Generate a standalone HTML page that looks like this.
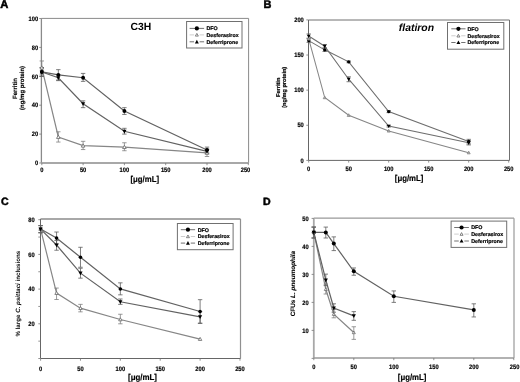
<!DOCTYPE html><html><head><meta charset="utf-8"><style>html,body{margin:0;padding:0;background:#fff;width:520px;height:382px;overflow:hidden}svg{display:block;font-family:"Liberation Sans", sans-serif;filter:blur(0.45px);text-rendering:geometricPrecision}</style></head><body>
<svg width="520" height="382" viewBox="0 0 520 382">
<rect width="520" height="382" fill="#fff"/>
<text x="0.2" y="8.1" font-size="11.2" text-anchor="start" font-weight="bold" fill="#000" stroke="#000" stroke-width="0.5">A</text>
<text x="263.5" y="8.2" font-size="11" text-anchor="start" font-weight="bold" fill="#000" stroke="#000" stroke-width="0.5">B</text>
<text x="1" y="204.8" font-size="10.6" text-anchor="start" font-weight="bold" fill="#000" stroke="#000" stroke-width="0.5">C</text>
<text x="262.9" y="204.6" font-size="10.6" text-anchor="start" font-weight="bold" fill="#000" stroke="#000" stroke-width="0.5">D</text>
<path d="M41.4 18.4H248.6" fill="none" stroke="#8a8a8a" stroke-width="1.0"/>
<path d="M248.6 18.4V163" fill="none" stroke="#8a8a8a" stroke-width="1.0"/>
<path d="M41.4 18.4V163" fill="none" stroke="#8a8a8a" stroke-width="1.3"/>
<path d="M41.4 163H248.6" fill="none" stroke="#a8a8a8" stroke-width="2.0"/>
<path d="M39.2 163H41.4" fill="none" stroke="#777" stroke-width="0.8"/>
<path d="M39.2 134.1H41.4" fill="none" stroke="#777" stroke-width="0.8"/>
<path d="M39.2 105.2H41.4" fill="none" stroke="#777" stroke-width="0.8"/>
<path d="M39.2 76.3H41.4" fill="none" stroke="#777" stroke-width="0.8"/>
<path d="M39.2 47.4H41.4" fill="none" stroke="#777" stroke-width="0.8"/>
<path d="M39.2 18.5H41.4" fill="none" stroke="#777" stroke-width="0.8"/>
<text x="38.2" y="165.2" font-size="6.5" text-anchor="end" font-weight="bold" fill="#000" textLength="3.20" lengthAdjust="spacingAndGlyphs" stroke="#000" stroke-width="0.18">0</text>
<text x="38.2" y="136.3" font-size="6.5" text-anchor="end" font-weight="bold" fill="#000" textLength="6.40" lengthAdjust="spacingAndGlyphs" stroke="#000" stroke-width="0.18">20</text>
<text x="38.2" y="107.4" font-size="6.5" text-anchor="end" font-weight="bold" fill="#000" textLength="6.40" lengthAdjust="spacingAndGlyphs" stroke="#000" stroke-width="0.18">40</text>
<text x="38.2" y="78.5" font-size="6.5" text-anchor="end" font-weight="bold" fill="#000" textLength="6.40" lengthAdjust="spacingAndGlyphs" stroke="#000" stroke-width="0.18">60</text>
<text x="38.2" y="49.6" font-size="6.5" text-anchor="end" font-weight="bold" fill="#000" textLength="6.40" lengthAdjust="spacingAndGlyphs" stroke="#000" stroke-width="0.18">80</text>
<text x="38.2" y="20.7" font-size="6.5" text-anchor="end" font-weight="bold" fill="#000" textLength="9.60" lengthAdjust="spacingAndGlyphs" stroke="#000" stroke-width="0.18">100</text>
<path d="M41.8 163V165.2" fill="none" stroke="#777" stroke-width="0.8"/>
<text x="41.8" y="171.8" font-size="6.5" text-anchor="middle" font-weight="bold" fill="#000" textLength="3.20" lengthAdjust="spacingAndGlyphs" stroke="#000" stroke-width="0.18">0</text>
<path d="M83.1 163V165.2" fill="none" stroke="#777" stroke-width="0.8"/>
<text x="83.1" y="171.8" font-size="6.5" text-anchor="middle" font-weight="bold" fill="#000" textLength="6.40" lengthAdjust="spacingAndGlyphs" stroke="#000" stroke-width="0.18">50</text>
<path d="M124.4 163V165.2" fill="none" stroke="#777" stroke-width="0.8"/>
<text x="124.4" y="171.8" font-size="6.5" text-anchor="middle" font-weight="bold" fill="#000" textLength="9.60" lengthAdjust="spacingAndGlyphs" stroke="#000" stroke-width="0.18">100</text>
<path d="M165.7 163V165.2" fill="none" stroke="#777" stroke-width="0.8"/>
<text x="165.7" y="171.8" font-size="6.5" text-anchor="middle" font-weight="bold" fill="#000" textLength="9.60" lengthAdjust="spacingAndGlyphs" stroke="#000" stroke-width="0.18">150</text>
<path d="M207 163V165.2" fill="none" stroke="#777" stroke-width="0.8"/>
<text x="207" y="171.8" font-size="6.5" text-anchor="middle" font-weight="bold" fill="#000" textLength="9.60" lengthAdjust="spacingAndGlyphs" stroke="#000" stroke-width="0.18">200</text>
<path d="M248.3 163V165.2" fill="none" stroke="#777" stroke-width="0.8"/>
<text x="245.5" y="171.8" font-size="6.5" text-anchor="middle" font-weight="bold" fill="#000" textLength="9.60" lengthAdjust="spacingAndGlyphs" stroke="#000" stroke-width="0.18">250</text>
<text x="130.5" y="182.4" font-size="8.5" text-anchor="start" font-weight="bold" fill="#000" textLength="28.5" lengthAdjust="spacingAndGlyphs" stroke="#000" stroke-width="0.18">[&#956;g/mL]</text>
<text transform="translate(16.9,88.5) rotate(-90) scale(0.1)" font-size="61.0" text-anchor="middle" font-weight="bold" fill="#000" stroke="#000" stroke-width="1.80">Ferritin</text>
<text transform="translate(24,87.9) rotate(-90) scale(0.1)" font-size="60.0" text-anchor="middle" font-weight="bold" fill="#000" stroke="#000" stroke-width="1.80">(ng/mg protein)</text>
<path d="M41.8 71.96L58.32 74.85L83.1 77.74L124.4 110.98L207 150" fill="none" stroke="#626262" stroke-width="1.2"/>
<path d="M41.8 67.63L58.32 136.99L83.1 145.66L124.4 147.1L207 152.88" fill="none" stroke="#868686" stroke-width="1.2"/>
<path d="M41.8 71.96L58.32 77.74L83.1 103.75L124.4 131.21L207 151.44" fill="none" stroke="#626262" stroke-width="1.2"/>
<path d="M41.8 67.63V76.3M39.6 67.63H44M39.6 76.3H44" stroke="#5e5e5e" stroke-width="0.8" fill="none"/>
<path d="M58.32 69.65V80.06M56.12 69.65H60.52M56.12 80.06H60.52" stroke="#5e5e5e" stroke-width="0.8" fill="none"/>
<path d="M83.1 73.41V81.36M80.9 73.41H85.3M80.9 81.36H85.3" stroke="#5e5e5e" stroke-width="0.8" fill="none"/>
<path d="M124.4 107.66V114.45M122.2 107.66H126.6M122.2 114.45H126.6" stroke="#5e5e5e" stroke-width="0.8" fill="none"/>
<path d="M207 147.1V152.88M204.8 147.1H209.2M204.8 152.88H209.2" stroke="#5e5e5e" stroke-width="0.8" fill="none"/>
<path d="M41.8 60.98V74.13M39.6 60.98H44M39.6 74.13H44" stroke="#808080" stroke-width="0.8" fill="none"/>
<path d="M58.32 131.79V142.05M56.12 131.79H60.52M56.12 142.05H60.52" stroke="#808080" stroke-width="0.8" fill="none"/>
<path d="M83.1 141.32V149.56M80.9 141.32H85.3M80.9 149.56H85.3" stroke="#808080" stroke-width="0.8" fill="none"/>
<path d="M124.4 142.77V150.72M122.2 142.77H126.6M122.2 150.72H126.6" stroke="#808080" stroke-width="0.8" fill="none"/>
<path d="M207 149.27V156.5M204.8 149.27H209.2M204.8 156.5H209.2" stroke="#808080" stroke-width="0.8" fill="none"/>
<path d="M41.8 67.63V76.3M39.6 67.63H44M39.6 76.3H44" stroke="#5e5e5e" stroke-width="0.8" fill="none"/>
<path d="M58.32 74.85V80.63M56.12 74.85H60.52M56.12 80.63H60.52" stroke="#5e5e5e" stroke-width="0.8" fill="none"/>
<path d="M83.1 100.86V107.66M80.9 100.86H85.3M80.9 107.66H85.3" stroke="#5e5e5e" stroke-width="0.8" fill="none"/>
<path d="M124.4 128.32V134.1M122.2 128.32H126.6M122.2 134.1H126.6" stroke="#5e5e5e" stroke-width="0.8" fill="none"/>
<path d="M207 149.27V153.61M204.8 149.27H209.2M204.8 153.61H209.2" stroke="#5e5e5e" stroke-width="0.8" fill="none"/>
<circle cx="41.8" cy="71.96" r="1.95" fill="#000"/>
<circle cx="58.32" cy="74.85" r="1.95" fill="#000"/>
<circle cx="83.1" cy="77.74" r="1.95" fill="#000"/>
<circle cx="124.4" cy="110.98" r="1.95" fill="#000"/>
<circle cx="207" cy="150" r="1.95" fill="#000"/>
<path d="M41.8 65.83L43.6 69.07L40 69.07Z" fill="#fff" stroke="#666" stroke-width="0.8"/>
<path d="M58.32 135.19L60.12 138.43L56.52 138.43Z" fill="#fff" stroke="#666" stroke-width="0.8"/>
<path d="M83.1 143.86L84.9 147.1L81.3 147.1Z" fill="#fff" stroke="#666" stroke-width="0.8"/>
<path d="M124.4 145.3L126.2 148.54L122.6 148.54Z" fill="#fff" stroke="#666" stroke-width="0.8"/>
<path d="M207 151.08L208.8 154.32L205.2 154.32Z" fill="#fff" stroke="#666" stroke-width="0.8"/>
<path d="M39.7 70.39L43.9 70.39L41.8 74.17Z" fill="#000"/>
<path d="M56.22 76.17L60.42 76.17L58.32 79.95Z" fill="#000"/>
<path d="M81 102.18L85.2 102.18L83.1 105.96Z" fill="#000"/>
<path d="M122.3 129.64L126.5 129.64L124.4 133.42Z" fill="#000"/>
<path d="M204.9 149.87L209.1 149.87L207 153.65Z" fill="#000"/>
<rect x="186.6" y="21.5" width="55.4" height="26.5" fill="#fff" stroke="#707070" stroke-width="1"/>
<path d="M189.6 28.4H204.1" fill="none" stroke="#626262" stroke-width="0.9"/>
<circle cx="196.85" cy="28.4" r="2.1" fill="#000"/>
<path d="M189.6 34.9H194.05M199.65 34.9H204.1" fill="none" stroke="#c8c8c8" stroke-width="0.9"/>
<path d="M196.85 33.4L198.35 36.1L195.35 36.1Z" fill="#fff" stroke="#666" stroke-width="0.8"/>
<path d="M189.6 41.8H194.05M199.65 41.8H204.1" fill="none" stroke="#626262" stroke-width="0.9"/>
<path d="M196.85 39.82L198.83 43.38L194.87 43.38Z" fill="#000"/>
<text x="206.5" y="30.3" font-size="5.3" text-anchor="start" font-weight="bold" fill="#000"  stroke="#000" stroke-width="0.18">DFO</text>
<text x="206.5" y="36.8" font-size="5.3" text-anchor="start" font-weight="bold" fill="#000"  stroke="#000" stroke-width="0.18">Desferasirox</text>
<text x="206.5" y="43.7" font-size="5.3" text-anchor="start" font-weight="bold" fill="#000"  stroke="#000" stroke-width="0.18">Deferriprone</text>
<text x="130.4" y="30.4" font-size="10.4" font-weight="bold"  fill="#000">C3H</text>
<path d="M308.5 20H509.5" fill="none" stroke="#707070" stroke-width="1.0"/>
<path d="M509.5 20V160.4" fill="none" stroke="#707070" stroke-width="1.0"/>
<path d="M308.5 20V160.4" fill="none" stroke="#666" stroke-width="1.0"/>
<path d="M308.5 160.4H509.5" fill="none" stroke="#666" stroke-width="1.0"/>
<path d="M306.3 160.4H308.5" fill="none" stroke="#777" stroke-width="0.8"/>
<path d="M306.3 125.28H308.5" fill="none" stroke="#777" stroke-width="0.8"/>
<path d="M306.3 90.15H308.5" fill="none" stroke="#777" stroke-width="0.8"/>
<path d="M306.3 55.03H308.5" fill="none" stroke="#777" stroke-width="0.8"/>
<path d="M306.3 19.9H308.5" fill="none" stroke="#777" stroke-width="0.8"/>
<text x="303.8" y="162.6" font-size="6.5" text-anchor="end" font-weight="bold" fill="#000" textLength="3.20" lengthAdjust="spacingAndGlyphs" stroke="#000" stroke-width="0.18">0</text>
<text x="303.8" y="127.48" font-size="6.5" text-anchor="end" font-weight="bold" fill="#000" textLength="6.40" lengthAdjust="spacingAndGlyphs" stroke="#000" stroke-width="0.18">50</text>
<text x="303.8" y="92.35" font-size="6.5" text-anchor="end" font-weight="bold" fill="#000" textLength="9.60" lengthAdjust="spacingAndGlyphs" stroke="#000" stroke-width="0.18">100</text>
<text x="303.8" y="57.23" font-size="6.5" text-anchor="end" font-weight="bold" fill="#000" textLength="9.60" lengthAdjust="spacingAndGlyphs" stroke="#000" stroke-width="0.18">150</text>
<text x="303.8" y="22.1" font-size="6.5" text-anchor="end" font-weight="bold" fill="#000" textLength="9.60" lengthAdjust="spacingAndGlyphs" stroke="#000" stroke-width="0.18">200</text>
<path d="M308.7 160.4V162.6" fill="none" stroke="#777" stroke-width="0.8"/>
<text x="308.7" y="170.5" font-size="6.5" text-anchor="middle" font-weight="bold" fill="#000" textLength="3.20" lengthAdjust="spacingAndGlyphs" stroke="#000" stroke-width="0.18">0</text>
<path d="M348.7 160.4V162.6" fill="none" stroke="#777" stroke-width="0.8"/>
<text x="348.7" y="170.5" font-size="6.5" text-anchor="middle" font-weight="bold" fill="#000" textLength="6.40" lengthAdjust="spacingAndGlyphs" stroke="#000" stroke-width="0.18">50</text>
<path d="M388.7 160.4V162.6" fill="none" stroke="#777" stroke-width="0.8"/>
<text x="388.7" y="170.5" font-size="6.5" text-anchor="middle" font-weight="bold" fill="#000" textLength="9.60" lengthAdjust="spacingAndGlyphs" stroke="#000" stroke-width="0.18">100</text>
<path d="M428.7 160.4V162.6" fill="none" stroke="#777" stroke-width="0.8"/>
<text x="428.7" y="170.5" font-size="6.5" text-anchor="middle" font-weight="bold" fill="#000" textLength="9.60" lengthAdjust="spacingAndGlyphs" stroke="#000" stroke-width="0.18">150</text>
<path d="M468.7 160.4V162.6" fill="none" stroke="#777" stroke-width="0.8"/>
<text x="468.7" y="170.5" font-size="6.5" text-anchor="middle" font-weight="bold" fill="#000" textLength="9.60" lengthAdjust="spacingAndGlyphs" stroke="#000" stroke-width="0.18">200</text>
<path d="M508.7 160.4V162.6" fill="none" stroke="#777" stroke-width="0.8"/>
<text x="508.7" y="170.5" font-size="6.5" text-anchor="middle" font-weight="bold" fill="#000" textLength="9.60" lengthAdjust="spacingAndGlyphs" stroke="#000" stroke-width="0.18">250</text>
<text x="394.8" y="181.3" font-size="8.5" text-anchor="start" font-weight="bold" fill="#000" textLength="28.5" lengthAdjust="spacingAndGlyphs" stroke="#000" stroke-width="0.18">[&#956;g/mL]</text>
<text transform="translate(280.4,87.3) rotate(-90) scale(0.1)" font-size="56.0" text-anchor="middle" font-weight="bold" fill="#000" stroke="#000" stroke-width="1.80">Ferritin</text>
<text transform="translate(286.1,87.3) rotate(-90) scale(0.1)" font-size="56.0" text-anchor="middle" font-weight="bold" fill="#000" stroke="#000" stroke-width="1.80">(ng/mg protein)</text>
<path d="M308.7 40.62L324.7 49.83L348.7 61.84L388.7 111.58L468.7 141.57" fill="none" stroke="#6e6e6e" stroke-width="1.05"/>
<path d="M308.7 38.87L324.7 97.53L348.7 115.23L388.7 130.9L468.7 152.67" fill="none" stroke="#868686" stroke-width="1.05"/>
<path d="M308.7 36.06L324.7 46.24L348.7 79.19L388.7 126.12L468.7 142.84" fill="none" stroke="#6e6e6e" stroke-width="1.05"/>
<path d="M308.7 38.87V42.38M306.5 38.87H310.9M306.5 42.38H310.9" stroke="#5e5e5e" stroke-width="0.8" fill="none"/>
<path d="M324.7 48V51.51M322.5 48H326.9M322.5 51.51H326.9" stroke="#5e5e5e" stroke-width="0.8" fill="none"/>
<path d="M348.7 61V62.75M346.5 61H350.9M346.5 62.75H350.9" stroke="#5e5e5e" stroke-width="0.8" fill="none"/>
<path d="M388.7 110.52V112.63M386.5 110.52H390.9M386.5 112.63H390.9" stroke="#5e5e5e" stroke-width="0.8" fill="none"/>
<path d="M468.7 139.33V143.89M466.5 139.33H470.9M466.5 143.89H470.9" stroke="#5e5e5e" stroke-width="0.8" fill="none"/>
<path d="M308.7 33.95V38.17M306.5 33.95H310.9M306.5 38.17H310.9" stroke="#5e5e5e" stroke-width="0.8" fill="none"/>
<path d="M324.7 44.49V48M322.5 44.49H326.9M322.5 48H326.9" stroke="#5e5e5e" stroke-width="0.8" fill="none"/>
<path d="M348.7 76.8V81.72M346.5 76.8H350.9M346.5 81.72H350.9" stroke="#5e5e5e" stroke-width="0.8" fill="none"/>
<path d="M388.7 125.28V127.03M386.5 125.28H390.9M386.5 127.03H390.9" stroke="#5e5e5e" stroke-width="0.8" fill="none"/>
<path d="M468.7 140.73V144.94M466.5 140.73H470.9M466.5 144.94H470.9" stroke="#5e5e5e" stroke-width="0.8" fill="none"/>
<circle cx="308.7" cy="40.62" r="1.7" fill="#000"/>
<circle cx="324.7" cy="49.83" r="1.7" fill="#000"/>
<circle cx="348.7" cy="61.84" r="1.7" fill="#000"/>
<circle cx="388.7" cy="111.58" r="1.7" fill="#000"/>
<circle cx="468.7" cy="141.57" r="1.7" fill="#000"/>
<path d="M308.7 37.37L310.2 40.07L307.2 40.07Z" fill="#aaa" stroke="#888" stroke-width="0.8"/>
<path d="M324.7 96.03L326.2 98.73L323.2 98.73Z" fill="#aaa" stroke="#888" stroke-width="0.8"/>
<path d="M348.7 113.73L350.2 116.43L347.2 116.43Z" fill="#aaa" stroke="#888" stroke-width="0.8"/>
<path d="M388.7 129.4L390.2 132.09L387.2 132.09Z" fill="#aaa" stroke="#888" stroke-width="0.8"/>
<path d="M468.7 151.17L470.2 153.87L467.2 153.87Z" fill="#aaa" stroke="#888" stroke-width="0.8"/>
<path d="M306.8 34.63L310.6 34.63L308.7 38.05Z" fill="#000"/>
<path d="M322.8 44.82L326.6 44.82L324.7 48.24Z" fill="#000"/>
<path d="M346.8 77.77L350.6 77.77L348.7 81.19Z" fill="#000"/>
<path d="M386.8 124.69L390.6 124.69L388.7 128.11Z" fill="#000"/>
<path d="M466.8 141.41L470.6 141.41L468.7 144.83Z" fill="#000"/>
<rect x="447.5" y="22.5" width="56.3" height="26.7" fill="#fff" stroke="#707070" stroke-width="1"/>
<path d="M451.3 28.8H465.5" fill="none" stroke="#626262" stroke-width="0.9"/>
<circle cx="458.4" cy="28.8" r="2.1" fill="#000"/>
<path d="M451.3 35.8H455.6M461.2 35.8H465.5" fill="none" stroke="#c8c8c8" stroke-width="0.9"/>
<path d="M458.4 34.3L459.9 37L456.9 37Z" fill="#fff" stroke="#666" stroke-width="0.8"/>
<path d="M451.3 42.5H455.6M461.2 42.5H465.5" fill="none" stroke="#626262" stroke-width="0.9"/>
<path d="M458.4 40.52L460.38 44.08L456.42 44.08Z" fill="#000"/>
<text x="467.5" y="30.7" font-size="5.3" text-anchor="start" font-weight="bold" fill="#000"  stroke="#000" stroke-width="0.18">DFO</text>
<text x="467.5" y="37.7" font-size="5.3" text-anchor="start" font-weight="bold" fill="#000"  stroke="#000" stroke-width="0.18">Desferasirox</text>
<text x="467.5" y="44.4" font-size="5.3" text-anchor="start" font-weight="bold" fill="#000"  stroke="#000" stroke-width="0.18">Deferriprone</text>
<text x="398.8" y="31.2" font-size="10.4" font-weight="bold" font-style="italic" fill="#000">flatiron</text>
<path d="M40.5 219H240.5" fill="none" stroke="#a8a8a8" stroke-width="1.8"/>
<path d="M240.5 219V358.5" fill="none" stroke="#909090" stroke-width="1.2"/>
<path d="M40.5 219V358.5" fill="none" stroke="#666" stroke-width="1.0"/>
<path d="M40.5 358.5H240.5" fill="none" stroke="#666" stroke-width="1.0"/>
<path d="M38.3 358.5H40.5" fill="none" stroke="#777" stroke-width="0.8"/>
<path d="M38.3 341.15H40.5" fill="none" stroke="#777" stroke-width="0.8"/>
<path d="M38.3 323.8H40.5" fill="none" stroke="#777" stroke-width="0.8"/>
<path d="M38.3 306.45H40.5" fill="none" stroke="#777" stroke-width="0.8"/>
<path d="M38.3 289.1H40.5" fill="none" stroke="#777" stroke-width="0.8"/>
<path d="M38.3 271.75H40.5" fill="none" stroke="#777" stroke-width="0.8"/>
<path d="M38.3 254.4H40.5" fill="none" stroke="#777" stroke-width="0.8"/>
<path d="M38.3 237.05H40.5" fill="none" stroke="#777" stroke-width="0.8"/>
<path d="M38.3 219.7H40.5" fill="none" stroke="#777" stroke-width="0.8"/>
<text x="34.7" y="326" font-size="6.5" text-anchor="end" font-weight="bold" fill="#000" textLength="6.40" lengthAdjust="spacingAndGlyphs" stroke="#000" stroke-width="0.18">20</text>
<text x="34.7" y="291.3" font-size="6.5" text-anchor="end" font-weight="bold" fill="#000" textLength="6.40" lengthAdjust="spacingAndGlyphs" stroke="#000" stroke-width="0.18">40</text>
<text x="34.7" y="256.6" font-size="6.5" text-anchor="end" font-weight="bold" fill="#000" textLength="6.40" lengthAdjust="spacingAndGlyphs" stroke="#000" stroke-width="0.18">60</text>
<text x="34.7" y="221.9" font-size="6.5" text-anchor="end" font-weight="bold" fill="#000" textLength="6.40" lengthAdjust="spacingAndGlyphs" stroke="#000" stroke-width="0.18">80</text>
<path d="M40.6 358.5V360.7" fill="none" stroke="#777" stroke-width="0.8"/>
<text x="40.6" y="371.1" font-size="6.5" text-anchor="middle" font-weight="bold" fill="#000" textLength="3.20" lengthAdjust="spacingAndGlyphs" stroke="#000" stroke-width="0.18">0</text>
<path d="M80.47 358.5V360.7" fill="none" stroke="#777" stroke-width="0.8"/>
<text x="80.47" y="371.1" font-size="6.5" text-anchor="middle" font-weight="bold" fill="#000" textLength="6.40" lengthAdjust="spacingAndGlyphs" stroke="#000" stroke-width="0.18">50</text>
<path d="M120.35 358.5V360.7" fill="none" stroke="#777" stroke-width="0.8"/>
<text x="120.35" y="371.1" font-size="6.5" text-anchor="middle" font-weight="bold" fill="#000" textLength="9.60" lengthAdjust="spacingAndGlyphs" stroke="#000" stroke-width="0.18">100</text>
<path d="M160.22 358.5V360.7" fill="none" stroke="#777" stroke-width="0.8"/>
<text x="160.22" y="371.1" font-size="6.5" text-anchor="middle" font-weight="bold" fill="#000" textLength="9.60" lengthAdjust="spacingAndGlyphs" stroke="#000" stroke-width="0.18">150</text>
<path d="M200.1 358.5V360.7" fill="none" stroke="#777" stroke-width="0.8"/>
<text x="200.1" y="371.1" font-size="6.5" text-anchor="middle" font-weight="bold" fill="#000" textLength="9.60" lengthAdjust="spacingAndGlyphs" stroke="#000" stroke-width="0.18">200</text>
<path d="M239.97 358.5V360.7" fill="none" stroke="#777" stroke-width="0.8"/>
<text x="239.97" y="371.1" font-size="6.5" text-anchor="middle" font-weight="bold" fill="#000" textLength="9.60" lengthAdjust="spacingAndGlyphs" stroke="#000" stroke-width="0.18">250</text>
<text x="128" y="379.8" font-size="8.5" text-anchor="start" font-weight="bold" fill="#000" textLength="29" lengthAdjust="spacingAndGlyphs" stroke="#000" stroke-width="0.18">[&#956;g/mL]</text>
<text transform="translate(20.1,293.7) rotate(-90) scale(0.1)" font-size="62.0" text-anchor="middle" font-weight="bold" fill="#000" stroke="#000" stroke-width="0.00">% large <tspan font-style="italic">C. psittaci</tspan> inclusions</text>
<path d="M40.6 229.07L56.55 238.09L80.47 257.18L120.35 288.93L200.1 311.48" fill="none" stroke="#626262" stroke-width="1.2"/>
<path d="M40.6 229.07L56.55 293.09L80.47 308.19L120.35 319.46L200.1 339.07" fill="none" stroke="#868686" stroke-width="1.2"/>
<path d="M40.6 229.07L56.55 245.03L80.47 273.14L120.35 301.77L200.1 316.86" fill="none" stroke="#626262" stroke-width="1.2"/>
<path d="M40.6 225.6V232.71M38.4 225.6H42.8M38.4 232.71H42.8" stroke="#5e5e5e" stroke-width="0.8" fill="none"/>
<path d="M56.55 232.02V243.99M54.35 232.02H58.75M54.35 243.99H58.75" stroke="#5e5e5e" stroke-width="0.8" fill="none"/>
<path d="M80.47 247.29V267.24M78.27 247.29H82.67M78.27 267.24H82.67" stroke="#5e5e5e" stroke-width="0.8" fill="none"/>
<path d="M120.35 282.85V294.83M118.15 282.85H122.55M118.15 294.83H122.55" stroke="#5e5e5e" stroke-width="0.8" fill="none"/>
<path d="M200.1 299.68V323.28M197.9 299.68H202.3M197.9 323.28H202.3" stroke="#5e5e5e" stroke-width="0.8" fill="none"/>
<path d="M40.6 225.6V232.71M38.4 225.6H42.8M38.4 232.71H42.8" stroke="#808080" stroke-width="0.8" fill="none"/>
<path d="M56.55 288.06V299.51M54.35 288.06H58.75M54.35 299.51H58.75" stroke="#808080" stroke-width="0.8" fill="none"/>
<path d="M80.47 304.37V311.83M78.27 304.37H82.67M78.27 311.83H82.67" stroke="#808080" stroke-width="0.8" fill="none"/>
<path d="M120.35 314.26V323.8M118.15 314.26H122.55M118.15 323.8H122.55" stroke="#808080" stroke-width="0.8" fill="none"/>
<path d="M40.6 225.6V232.71M38.4 225.6H42.8M38.4 232.71H42.8" stroke="#5e5e5e" stroke-width="0.8" fill="none"/>
<path d="M56.55 240.52V250.24M54.35 240.52H58.75M54.35 250.24H58.75" stroke="#5e5e5e" stroke-width="0.8" fill="none"/>
<path d="M80.47 268.28V278.17M78.27 268.28H82.67M78.27 278.17H82.67" stroke="#5e5e5e" stroke-width="0.8" fill="none"/>
<path d="M120.35 298.99V304.37M118.15 298.99H122.55M118.15 304.37H122.55" stroke="#5e5e5e" stroke-width="0.8" fill="none"/>
<path d="M200.1 311.65V323.28M197.9 311.65H202.3M197.9 323.28H202.3" stroke="#5e5e5e" stroke-width="0.8" fill="none"/>
<circle cx="40.6" cy="229.07" r="1.8" fill="#000"/>
<circle cx="56.55" cy="238.09" r="1.8" fill="#000"/>
<circle cx="80.47" cy="257.18" r="1.8" fill="#000"/>
<circle cx="120.35" cy="288.93" r="1.8" fill="#000"/>
<circle cx="200.1" cy="311.48" r="1.8" fill="#000"/>
<path d="M40.6 227.37L42.3 230.43L38.9 230.43Z" fill="#fff" stroke="#666" stroke-width="0.8"/>
<path d="M56.55 291.39L58.25 294.45L54.85 294.45Z" fill="#fff" stroke="#666" stroke-width="0.8"/>
<path d="M80.47 306.49L82.17 309.55L78.77 309.55Z" fill="#fff" stroke="#666" stroke-width="0.8"/>
<path d="M120.35 317.76L122.05 320.82L118.65 320.82Z" fill="#fff" stroke="#666" stroke-width="0.8"/>
<path d="M200.1 337.37L201.8 340.43L198.4 340.43Z" fill="#fff" stroke="#666" stroke-width="0.8"/>
<path d="M38.5 227.49L42.7 227.49L40.6 231.27Z" fill="#000"/>
<path d="M54.45 243.46L58.65 243.46L56.55 247.24Z" fill="#000"/>
<path d="M78.38 271.56L82.57 271.56L80.47 275.34Z" fill="#000"/>
<path d="M118.25 300.19L122.45 300.19L120.35 303.97Z" fill="#000"/>
<path d="M198 315.29L202.2 315.29L200.1 319.06Z" fill="#000"/>
<rect x="177.4" y="223.5" width="55.7" height="26.2" fill="#fff" stroke="#707070" stroke-width="1"/>
<path d="M180.8 229.7H195.1" fill="none" stroke="#626262" stroke-width="0.9"/>
<circle cx="187.95" cy="229.7" r="2.1" fill="#000"/>
<path d="M180.8 236.5H185.15M190.75 236.5H195.1" fill="none" stroke="#c8c8c8" stroke-width="0.9"/>
<path d="M187.95 235L189.45 237.7L186.45 237.7Z" fill="#fff" stroke="#666" stroke-width="0.8"/>
<path d="M180.8 243.1H185.15M190.75 243.1H195.1" fill="none" stroke="#626262" stroke-width="0.9"/>
<path d="M187.95 241.12L189.93 244.68L185.97 244.68Z" fill="#000"/>
<text x="197.7" y="231.6" font-size="5.3" text-anchor="start" font-weight="bold" fill="#000"  stroke="#000" stroke-width="0.18">DFO</text>
<text x="197.7" y="238.4" font-size="5.3" text-anchor="start" font-weight="bold" fill="#000"  stroke="#000" stroke-width="0.18">Desferasirox</text>
<text x="197.7" y="245" font-size="5.3" text-anchor="start" font-weight="bold" fill="#000"  stroke="#000" stroke-width="0.18">Deferriprone</text>
<path d="M313.8 218.2H514" fill="none" stroke="#999" stroke-width="1.2"/>
<path d="M514 218.2V358" fill="none" stroke="#999" stroke-width="1.2"/>
<path d="M313.8 218.2V358" fill="none" stroke="#a8a8a8" stroke-width="1.8"/>
<path d="M313.8 358H514" fill="none" stroke="#999" stroke-width="1.6"/>
<path d="M311.6 358.4H313.8" fill="none" stroke="#777" stroke-width="0.8"/>
<path d="M311.6 330.4H313.8" fill="none" stroke="#777" stroke-width="0.8"/>
<path d="M311.6 302.4H313.8" fill="none" stroke="#777" stroke-width="0.8"/>
<path d="M311.6 274.4H313.8" fill="none" stroke="#777" stroke-width="0.8"/>
<path d="M311.6 246.4H313.8" fill="none" stroke="#777" stroke-width="0.8"/>
<path d="M311.6 218.4H313.8" fill="none" stroke="#777" stroke-width="0.8"/>
<text x="308.7" y="333.1" font-size="6.5" text-anchor="end" font-weight="bold" fill="#000" textLength="6.40" lengthAdjust="spacingAndGlyphs" stroke="#000" stroke-width="0.18">10</text>
<text x="308.7" y="305.1" font-size="6.5" text-anchor="end" font-weight="bold" fill="#000" textLength="6.40" lengthAdjust="spacingAndGlyphs" stroke="#000" stroke-width="0.18">20</text>
<text x="308.7" y="277.1" font-size="6.5" text-anchor="end" font-weight="bold" fill="#000" textLength="6.40" lengthAdjust="spacingAndGlyphs" stroke="#000" stroke-width="0.18">30</text>
<text x="308.7" y="249.1" font-size="6.5" text-anchor="end" font-weight="bold" fill="#000" textLength="6.40" lengthAdjust="spacingAndGlyphs" stroke="#000" stroke-width="0.18">40</text>
<text x="308.7" y="221.1" font-size="6.5" text-anchor="end" font-weight="bold" fill="#000" textLength="6.40" lengthAdjust="spacingAndGlyphs" stroke="#000" stroke-width="0.18">50</text>
<path d="M313.8 358V360.2" fill="none" stroke="#777" stroke-width="0.8"/>
<text x="313.8" y="369.2" font-size="6.5" text-anchor="middle" font-weight="bold" fill="#000" textLength="3.20" lengthAdjust="spacingAndGlyphs" stroke="#000" stroke-width="0.18">0</text>
<path d="M353.8 358V360.2" fill="none" stroke="#777" stroke-width="0.8"/>
<text x="353.8" y="369.2" font-size="6.5" text-anchor="middle" font-weight="bold" fill="#000" textLength="6.40" lengthAdjust="spacingAndGlyphs" stroke="#000" stroke-width="0.18">50</text>
<path d="M393.8 358V360.2" fill="none" stroke="#777" stroke-width="0.8"/>
<text x="393.8" y="369.2" font-size="6.5" text-anchor="middle" font-weight="bold" fill="#000" textLength="9.60" lengthAdjust="spacingAndGlyphs" stroke="#000" stroke-width="0.18">100</text>
<path d="M433.8 358V360.2" fill="none" stroke="#777" stroke-width="0.8"/>
<text x="433.8" y="369.2" font-size="6.5" text-anchor="middle" font-weight="bold" fill="#000" textLength="9.60" lengthAdjust="spacingAndGlyphs" stroke="#000" stroke-width="0.18">150</text>
<path d="M473.8 358V360.2" fill="none" stroke="#777" stroke-width="0.8"/>
<text x="473.8" y="369.2" font-size="6.5" text-anchor="middle" font-weight="bold" fill="#000" textLength="9.60" lengthAdjust="spacingAndGlyphs" stroke="#000" stroke-width="0.18">200</text>
<path d="M513.8 358V360.2" fill="none" stroke="#777" stroke-width="0.8"/>
<text x="514.6" y="369.2" font-size="6.5" text-anchor="middle" font-weight="bold" fill="#000" textLength="9.60" lengthAdjust="spacingAndGlyphs" stroke="#000" stroke-width="0.18">250</text>
<text x="397.8" y="379.8" font-size="8.5" text-anchor="start" font-weight="bold" fill="#000" textLength="28.5" lengthAdjust="spacingAndGlyphs" stroke="#000" stroke-width="0.18">[&#956;g/mL]</text>
<text transform="translate(295.2,283.6) rotate(-90) scale(0.1)" font-size="63.5" text-anchor="middle" font-weight="bold" fill="#000" stroke="#000" stroke-width="0.80">CFUs <tspan font-style="italic">L. pneumophila</tspan></text>
<path d="M313.8 232.4L325.8 232.4L333.8 243.6L353.8 271.32L393.8 296.24L473.8 309.96" fill="none" stroke="#626262" stroke-width="1.2"/>
<path d="M313.8 232.4L325.8 289.24L333.8 314.16L353.8 332.5" fill="none" stroke="#868686" stroke-width="1.2"/>
<path d="M313.8 232.4L325.8 280L333.8 308L353.8 315.84" fill="none" stroke="#626262" stroke-width="1.2"/>
<path d="M313.8 227.08V238M311.6 227.08H316M311.6 238H316" stroke="#5e5e5e" stroke-width="0.8" fill="none"/>
<path d="M325.8 227.08V238M323.6 227.08H328M323.6 238H328" stroke="#5e5e5e" stroke-width="0.8" fill="none"/>
<path d="M333.8 236.88V250.6M331.6 236.88H336M331.6 250.6H336" stroke="#5e5e5e" stroke-width="0.8" fill="none"/>
<path d="M353.8 267.96V275.24M351.6 267.96H356M351.6 275.24H356" stroke="#5e5e5e" stroke-width="0.8" fill="none"/>
<path d="M393.8 290.92V302.4M391.6 290.92H396M391.6 302.4H396" stroke="#5e5e5e" stroke-width="0.8" fill="none"/>
<path d="M473.8 303.8V316.96M471.6 303.8H476M471.6 316.96H476" stroke="#5e5e5e" stroke-width="0.8" fill="none"/>
<path d="M313.8 227.08V238M311.6 227.08H316M311.6 238H316" stroke="#808080" stroke-width="0.8" fill="none"/>
<path d="M325.8 284.2V294M323.6 284.2H328M323.6 294H328" stroke="#808080" stroke-width="0.8" fill="none"/>
<path d="M333.8 309.4V317.8M331.6 309.4H336M331.6 317.8H336" stroke="#808080" stroke-width="0.8" fill="none"/>
<path d="M353.8 326.76V339.36M351.6 326.76H356M351.6 339.36H356" stroke="#808080" stroke-width="0.8" fill="none"/>
<path d="M313.8 227.08V238M311.6 227.08H316M311.6 238H316" stroke="#5e5e5e" stroke-width="0.8" fill="none"/>
<path d="M325.8 274.12V285.6M323.6 274.12H328M323.6 285.6H328" stroke="#5e5e5e" stroke-width="0.8" fill="none"/>
<path d="M333.8 303.8V312.2M331.6 303.8H336M331.6 312.2H336" stroke="#5e5e5e" stroke-width="0.8" fill="none"/>
<path d="M353.8 311.64V320.32M351.6 311.64H356M351.6 320.32H356" stroke="#5e5e5e" stroke-width="0.8" fill="none"/>
<circle cx="313.8" cy="232.4" r="2" fill="#000"/>
<circle cx="325.8" cy="232.4" r="2" fill="#000"/>
<circle cx="333.8" cy="243.6" r="2" fill="#000"/>
<circle cx="353.8" cy="271.32" r="2" fill="#000"/>
<circle cx="393.8" cy="296.24" r="2" fill="#000"/>
<circle cx="473.8" cy="309.96" r="2" fill="#000"/>
<path d="M313.8 230.9L315.3 233.6L312.3 233.6Z" fill="#fff" stroke="#666" stroke-width="0.8"/>
<path d="M325.8 287.74L327.3 290.44L324.3 290.44Z" fill="#fff" stroke="#666" stroke-width="0.8"/>
<path d="M333.8 312.66L335.3 315.36L332.3 315.36Z" fill="#fff" stroke="#666" stroke-width="0.8"/>
<path d="M353.8 331L355.3 333.7L352.3 333.7Z" fill="#fff" stroke="#666" stroke-width="0.8"/>
<path d="M311.7 230.82L315.9 230.82L313.8 234.6Z" fill="#000"/>
<path d="M323.7 278.43L327.9 278.43L325.8 282.2Z" fill="#000"/>
<path d="M331.7 306.43L335.9 306.43L333.8 310.2Z" fill="#000"/>
<path d="M351.7 314.26L355.9 314.26L353.8 318.04Z" fill="#000"/>
<rect x="451.1" y="221.1" width="55.6" height="26.3" fill="#fff" stroke="#707070" stroke-width="1"/>
<path d="M454.2 227.5H468.9" fill="none" stroke="#626262" stroke-width="0.9"/>
<circle cx="461.55" cy="227.5" r="2.1" fill="#000"/>
<path d="M454.2 234.1H458.75M464.35 234.1H468.9" fill="none" stroke="#c8c8c8" stroke-width="0.9"/>
<path d="M461.55 232.6L463.05 235.3L460.05 235.3Z" fill="#fff" stroke="#666" stroke-width="0.8"/>
<path d="M454.2 241H458.75M464.35 241H468.9" fill="none" stroke="#626262" stroke-width="0.9"/>
<path d="M461.55 239.02L463.53 242.58L459.57 242.58Z" fill="#000"/>
<text x="471.2" y="229.4" font-size="5.3" text-anchor="start" font-weight="bold" fill="#000"  stroke="#000" stroke-width="0.18">DFO</text>
<text x="471.2" y="236" font-size="5.3" text-anchor="start" font-weight="bold" fill="#000"  stroke="#000" stroke-width="0.18">Desferasirox</text>
<text x="471.2" y="242.9" font-size="5.3" text-anchor="start" font-weight="bold" fill="#000"  stroke="#000" stroke-width="0.18">Deferriprone</text>
</svg></body></html>
